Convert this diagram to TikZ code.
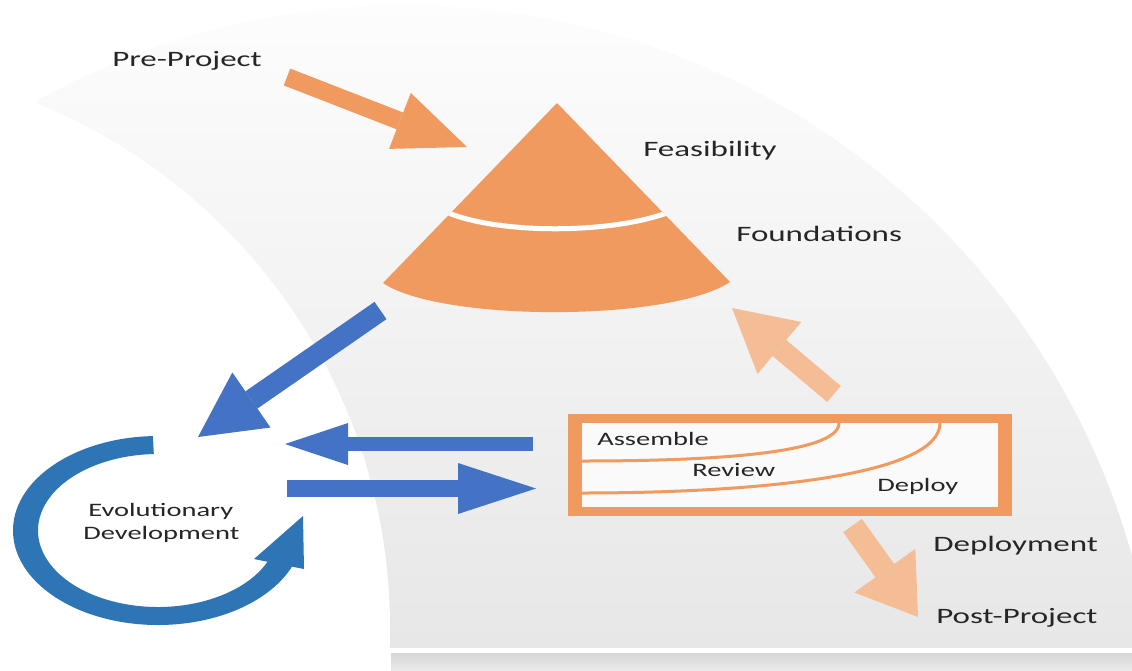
\documentclass[tikz,border=0pt]{standalone}
\usepackage{fontspec}
\setmainfont{Carlito}
\usetikzlibrary{calc}
\usetikzlibrary{arrows.meta}
\definecolor{dsdmorange}{RGB}{240,154,95}
\definecolor{lightorange}{RGB}{245,189,149}
\definecolor{arrowblue}{RGB}{68,114,196}
\definecolor{ringblue}{RGB}{46,117,182}
\definecolor{labelgray}{RGB}{38,38,38}
\definecolor{boxwhite}{RGB}{250,250,250}
\definecolor{bgtop}{RGB}{253,253,253}
\definecolor{bgbottom}{RGB}{231,231,231}
\definecolor{bartop}{RGB}{214,214,214}
\definecolor{barbottom}{RGB}{234,234,234}
\tikzstyle{biglabel}=[font=\fontsize{22}{26}\selectfont, text=labelgray, inner sep=0pt, anchor=base west, xscale=1.5]
\tikzstyle{smalllabel}=[biglabel, font=\fontsize{19}{23}\selectfont]
\tikzstyle{stagecurve}=[dsdmorange, line width=3pt]
\newcommand{\drawfatarrow}[6]{
\draw[#1, line width=#2pt, -{Triangle[length=#3pt, width=#4pt, line width=0pt]}] (#5) -- (#6);
}

\begin{document}
\begin{tikzpicture}[x=1pt, y=-1pt]
  \useasboundingbox (0,0) rectangle (1132,670);
  % background band
  \begin{scope}
  \clip (36,0) rectangle (1132,647);
  \clip (405,760) circle[radius=755];
  \shade[top color=bgtop, bottom color=bgbottom] (36,0) rectangle (1132,647);
  \fill[white] (-176,628) circle[radius=566];
  \end{scope}
  \shade[top color=bartop, bottom color=barbottom] (391,653) rectangle (1132,670);

  % pyramid
  \coordinate (apex) at (557,103);
  \fill[dsdmorange] (apex) -- (383,283) .. controls (440,322) and (670,322) .. (730,282) -- cycle;
  \begin{scope}
  \clip (apex) -- (383,283) -- (730,282) -- cycle;
  \draw[white, line width=5pt] (446,212) .. controls (500,235) and (615,234) .. (672,211);
  \end{scope}

  % timebox
  \fill[dsdmorange] (568,414) rectangle (1012,516);
  \fill[boxwhite] (582,423) rectangle (998,507);
  \draw[stagecurve] (839,423) .. controls (839,455) and (700,461) .. (582,461); %assemble
  \draw[stagecurve] (940,423) .. controls (940,475) and (760,493) .. (582,493); %review

  % evolutionary loop
  \coordinate (evo) at (158,530.5);
  \fill[ringblue] ($(evo)+(-92:145 and 94.5)$) arc[start angle=-92, end angle=-338, x radius=145, y radius=94.5]
     -- ($(evo)+(-338:120 and 76.5)$) arc[start angle=-338, end angle=-92, x radius=120, y radius=76.5] -- cycle;
  \fill[ringblue] (254,559) -- (303,516) -- (304,569) -- cycle;

  % arrows
  \coordinate (preTail) at (287,77);
  \coordinate (preTip) at (467,147);
  \coordinate (pyrTail) at (380.5,310.5);
  \coordinate (evoTip) at (198,437);
  \coordinate (boxBack) at (533,444);
  \coordinate (evoBack) at (285,444);
  \coordinate (evoOut) at (287,488.5);
  \coordinate (boxIn) at (536,488.5);
  \coordinate (boxUp) at (834,394);
  \coordinate (pyrTip) at (732,308);
  \coordinate (boxDown) at (852.5,525.5);
  \coordinate (postTip) at (918,617);
  \drawfatarrow{dsdmorange}{18}{72}{60}{preTail}{preTip} %pre
  \drawfatarrow{arrowblue}{21}{65}{67}{pyrTail}{evoTip}
  \drawfatarrow{arrowblue}{14}{63}{42}{boxBack}{evoBack}
  \drawfatarrow{arrowblue}{17}{78}{51}{evoOut}{boxIn}
  \drawfatarrow{lightorange}{21}{62}{68}{boxUp}{pyrTip}
  \drawfatarrow{lightorange}{23}{57}{75}{boxDown}{postTip} %post

  % labels
  \foreach \nm/\x/\y/\txt in {preproj/112/66/Pre-Project, feas/643/156/Feasibility, found/736/241/Foundations, deployment/933/551/Deployment, postproj/936/623/Post-Project}
    \node[biglabel] (\nm) at (\x,\y) {\txt};
  \foreach \nm/\x/\y/\txt in {evolA/88/516/Evolutionary, evolB/83/539/Development, assemble/597/445/Assemble, review/692/476/Review, deploy/877/491/Deploy}
    \node[smalllabel] (\nm) at (\x,\y) {\txt};
\end{tikzpicture}
\end{document}
